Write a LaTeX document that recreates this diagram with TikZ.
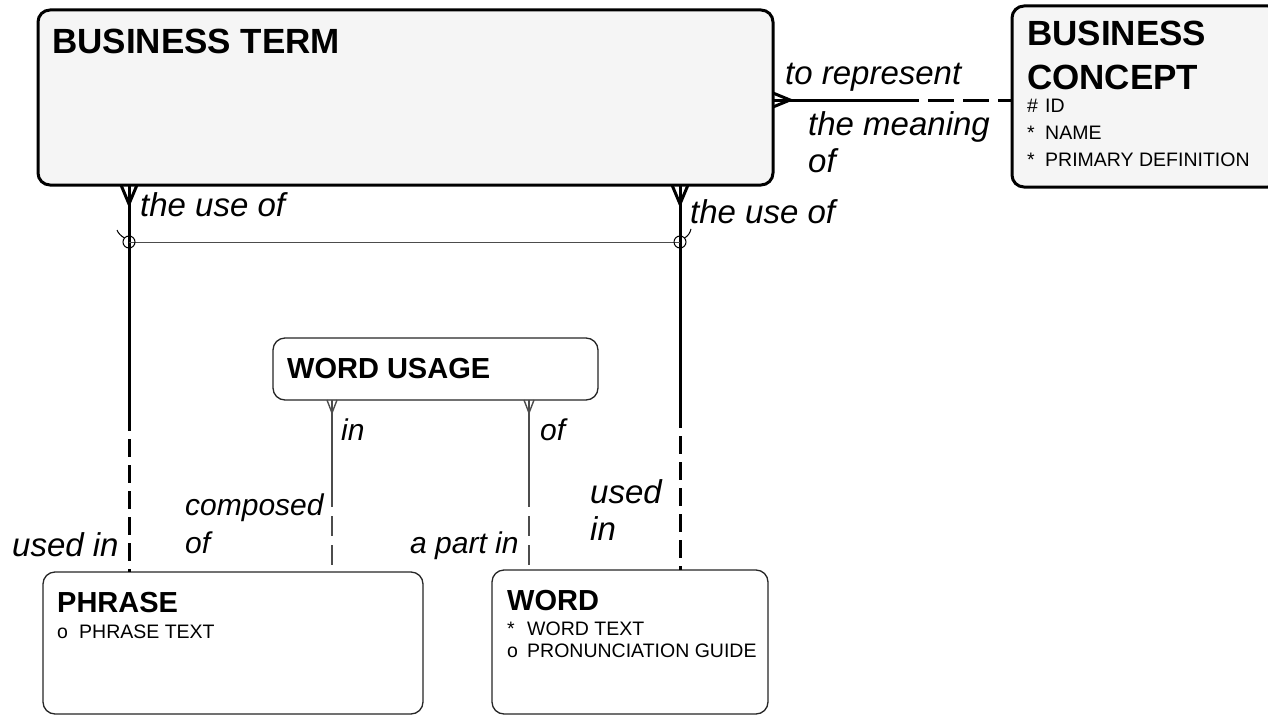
\documentclass[tikz,border=0pt]{standalone}
\usepackage{fontspec}
\setmainfont{Liberation Sans}
\usetikzlibrary{calc}
\begin{document}
\begin{tikzpicture}[x=1pt,y=-1pt,
  entthick/.style={draw=black, line width=3pt, rounded corners=12pt, fill=black!4, inner sep=0pt, outer sep=0pt},
  entthin/.style={draw=black!85, line width=1.3pt, rounded corners=12pt, fill=white, inner sep=0pt, outer sep=0pt},
  bigtitle/.style={anchor=base west, inner sep=0pt, text depth=0pt, font=\fontsize{35}{38}\selectfont\bfseries},
  title/.style={anchor=base west, inner sep=0pt, font=\fontsize{29}{32}\selectfont\bfseries},
  attr/.style={anchor=base west, inner sep=0pt, font=\fontsize{19.5}{22}\selectfont},
  lbl/.style={anchor=base west, inner sep=0pt, font=\fontsize{33}{36}\selectfont\itshape},
  lbls/.style={anchor=base west, inner sep=0pt, font=\fontsize{30}{33}\selectfont\itshape},
  thickrel/.style={line width=3pt, black},
  thinrel/.style={line width=1.4pt, black!70},
  thickdash/.style={thickrel, dash pattern=on 18pt off 8pt},
  thindash/.style={thinrel, dash pattern=on 20pt off 9pt},
  hdash/.style={thickrel, dash pattern=on 26pt off 9pt}
]
\useasboundingbox (0,0) rectangle (1268,717);

% entities
\node[entthick, minimum width=735pt, minimum height=175pt] (bt) at (405.5,97.5) {};
\node[entthick, minimum width=268pt, minimum height=181pt] (bc) at (1146,96.5) {};
\node[entthin, minimum width=325pt, minimum height=62pt] (wu) at (435.5,369) {};
\node[entthin, minimum width=380pt, minimum height=142pt] (ph) at (233,643) {};
\node[entthin, minimum width=276pt, minimum height=144pt] (wd) at (630,642) {};

% entity texts
\node[bigtitle] (btt) at (52,54) {BUSINESS TERM};
\node[bigtitle] (bct1) at (1027,46) {BUSINESS};
\node[bigtitle] (bct2) at (1027,89) {CONCEPT};
\node[attr] (bca1s) at (1027,112) {\#};
\node[attr] (bca1) at (1045,112) {ID};
\node[attr] (bca2s) at (1027,139) {*};
\node[attr] (bca2) at (1045,139) {NAME};
\node[attr] (bca3s) at (1027,166) {*};
\node[attr] (bca3) at (1045,166) {PRIMARY DEFINITION};
\node[title] (wut) at (287,378) {WORD USAGE};
\node[title] (pht) at (57,612) {PHRASE};
\node[attr] (pha1s) at (57,638) {o};
\node[attr] (pha1) at (79,638) {PHRASE TEXT};
\node[title] (wdt) at (507,610) {WORD};
\node[attr] (wda1s) at (507,635) {*};
\node[attr] (wda1) at (527,635) {WORD TEXT};
\node[attr] (wda2s) at (507,657) {o};
\node[attr] (wda2) at (527,657) {PRONUNCIATION GUIDE};

% helper coordinates
\coordinate (yr) at (0,100);
\coordinate (xl) at (129,0);
\coordinate (xr) at (680,0);
\coordinate (xwl) at (332,0);
\coordinate (xwr) at (529,0);
\coordinate (mh) at (893,100);
\coordinate (ml) at (129,413);
\coordinate (mr) at (680,410);
\coordinate (mwl) at (332,487);
\coordinate (mwr) at (529,487);
\coordinate (arcl) at (129,242);
\coordinate (arcr) at (680,242);

% BUSINESS TERM -- BUSINESS CONCEPT
\draw[thickrel] (bt.east |- yr) -- (mh);
\draw[hdash] (mh) -- (bc.west |- yr);
\draw[thickrel] (bt.east |- yr) ++(0,-7) -- ++(17,7) -- ++(-17,7);
\node[lbl] (l1) at (785,84) {to represent};
\node[lbl] (l2) at (808,135) {the meaning};
\node[lbl] (l3) at (808,172) {of};

% BUSINESS TERM -- PHRASE
\draw[thickrel] (xl |- bt.south) -- (ml);
\draw[thickdash] (ml) -- (xl |- ph.north);
\draw[thickrel] (xl |- bt.south) ++(-8,0) -- ++(8,19) -- ++(8,-19);
\node[lbl] (l4) at (140,216) {the use of};
\node[lbl] (l5) at (12,556) {used in};

% BUSINESS TERM -- WORD
\draw[thickrel] (xr |- bt.south) -- (mr);
\draw[thickdash] (mr) -- (xr |- wd.north);
\draw[thickrel] (xr |- bt.south) ++(-8,0) -- ++(8,19) -- ++(8,-19);
\node[lbl] (l6) at (690,223) {the use of};
\node[lbl] (l7) at (590,503) {used};
\node[lbl] (l8) at (590,540) {in};

% exclusive arc
\draw[thinrel, line width=1pt] (arcl) -- (arcr);
\draw[line width=1pt] (arcl) circle[radius=6pt];
\draw[line width=1pt] (arcr) circle[radius=6pt];
\draw[line width=1pt] (arcl) ++(-4.5,-4) .. controls (121,236) and (118,233) .. (117,230);
\draw[line width=1pt] (arcr) ++(4.5,-4) .. controls (688,236) and (690,233) .. (691,229);

% WORD USAGE -- PHRASE
\draw[thinrel] (xwl |- wu.south) -- (mwl);
\draw[thindash] (mwl) -- (xwl |- ph.north);
\draw[thinrel] (xwl |- wu.south) ++(-5,0) -- ++(5,13) -- ++(5,-13);
\node[lbls] (l9) at (341,440) {in};
\node[lbls] (l10) at (185,515) {composed};
\node[lbls] (l11) at (185,553) {of};

% WORD USAGE -- WORD
\draw[thinrel] (xwr |- wu.south) -- (mwr);
\draw[thindash] (mwr) -- (xwr |- wd.north);
\draw[thinrel] (xwr |- wu.south) ++(-5,0) -- ++(5,13) -- ++(5,-13);
\node[lbls] (l12) at (540,440) {of};
\node[lbls] (l13) at (410,553) {a part in};
\end{tikzpicture}
\end{document}
